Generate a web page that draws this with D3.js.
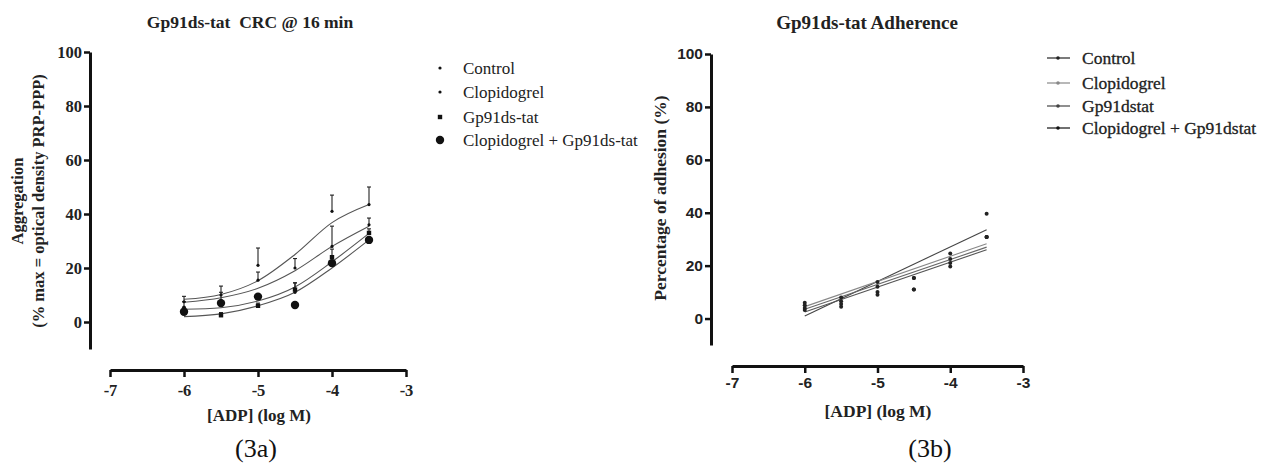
<!DOCTYPE html>
<html>
<head>
<meta charset="utf-8">
<script src="https://cdn.jsdelivr.net/npm/d3@7"></script>
<style>
  body { margin: 0; background: #fff; }
  svg { display: block; }
  .serif { font-family: "Liberation Serif", "Times New Roman", serif; }
</style>
</head>
<body>
<div id="main"></div>
<script>
'use strict';

var width = 1262, height = 465;

// shared x / y
var doses = [-6, -5.5, -5, -4.5, -4, -3.5];
var xTicks = [-7, -6, -5, -4, -3];
var yTicks = [0, 20, 40, 60, 80, 100];

// ---- 3a : aggregation CRC ----
var namesA = ['Control', 'Clopidogrel', 'Gp91ds-tat', 'Clopidogrel + Gp91ds-tat'];
var aggControl = [7.5, 10, 21, 20, 41, 43.5];
var aggClop = [5.5, 8, 15.5, 11, 28, 36];
var aggGp = [4.5, 2.5, 6, 12, 24, 33];
var aggCombo = [3.8, 7, 9.4, 6.3, 21.8, 30.4];
var errControl = [2, 3.3, 6.4, 3.5, 6, 6.5];
var errClop = [2, 3, 3, 3.5, 7.5, 2.5];
var errGp = [1, 1, 1, 2.5, 3, 1.5];
var errCombo = [0.8, 0.8, 0.8, 0.8, 0.8, 0.8];
// fitted curves, read at each dose
var fitControl = [8.4, 10.2, 15.3, 25, 36.8, 43.5];
var fitClop = [7.3, 9, 12.5, 19, 28, 35.5];
var fitGp = [4.7, 5.3, 7.8, 13, 22.3, 32.8];
var fitCombo = [2.0, 3.0, 6, 11, 20, 30.4];

// ---- 3b : adherence ----
var namesB = ['Control', 'Clopidogrel', 'Gp91dstat', 'Clopidogrel + Gp91dstat'];
var adhControl = [6, 8, 13.8, 15.3, 24.6, 39.6];
var adhClop = [5, 6.5, 12, 11, 22.5, 30.8];
var adhGp = [4, 5.5, 10, 15.3, 21, 30.8];
var adhCombo = [3.2, 4.5, 9, 11, 19.7, 30.8];
// linear fits, value at first and last dose
var adhFitX = [-6, -3.5];
var adhFitControl = [1, 33.6];
var adhFitClop = [4.5, 28.3];
var adhFitGp = [3.5, 27];
var adhFitCombo = [2.5, 26];

var svg = d3.select('#main').append('svg')
  .attr('width', width).attr('height', height);

function drawAxes(g, x, y, yAxisX, xAxisY, tickFont, tickSize, xPad) {
  var fmt = function(d) { return String(d); };  // plain hyphen, no decimals
  var ya = g.append('g')
    .attr('transform', 'translate(' + yAxisX + ',0)')
    .call(d3.axisLeft(y).tickValues(yTicks).tickFormat(fmt)
      .tickSize(6).tickSizeOuter(0).tickPadding(2));
  var xa = g.append('g')
    .attr('transform', 'translate(0,' + xAxisY + ')')
    .call(d3.axisBottom(x).tickValues(xTicks).tickFormat(fmt)
      .tickSize(7).tickSizeOuter(0).tickPadding(xPad));

  [ya, xa].forEach(function(a) {
    a.select('.domain').attr('stroke', '#111').attr('stroke-width', 3);
    a.selectAll('.tick line').attr('stroke', '#111').attr('stroke-width', 2.5);
    a.selectAll('.tick text')
      .style('font-family', tickFont)
      .style('font-weight', 'bold')
      .style('font-size', tickSize + 'px')
      .attr('fill', '#222');
  });
}

// ================= panel 3a =================
(function() {
  var g = svg.append('g');
  var x = d3.scaleLinear().domain([-7, -3]).range([110, 406]);
  var y = d3.scaleLinear().domain([-10, 100]).range([349, 52]);

  drawAxes(g, x, y, 90, 370, '"Liberation Serif", serif', 16.5, 7);

  var means = [aggControl, aggClop, aggGp, aggCombo];
  var errs = [errControl, errClop, errGp, errCombo];
  var fits = [fitControl, fitClop, fitGp, fitCombo];

  var line = d3.line()
    .x(function(d, i) { return x(doses[i]); })
    .y(function(d) { return y(d); })
    .curve(d3.curveMonotoneX);

  fits.forEach(function(f) {
    g.append('path').attr('d', line(f))
      .attr('fill', 'none').attr('stroke', '#555').attr('stroke-width', 1.1);
  });

  // error bars (up only, with cap)
  means.forEach(function(m, s) {
    m.forEach(function(v, i) {
      var cx = x(doses[i]), top = y(v + errs[s][i]);
      g.append('line').attr('x1', cx).attr('x2', cx)
        .attr('y1', y(v)).attr('y2', top)
        .attr('stroke', '#222').attr('stroke-width', 1.1);
      g.append('line').attr('x1', cx - 2).attr('x2', cx + 2)
        .attr('y1', top).attr('y2', top)
        .attr('stroke', '#222').attr('stroke-width', 1.1);
    });
  });

  function marker(sel, s, cx, cy) {
    if (s === 2) {
      sel.append('rect').attr('x', cx - 2.2).attr('y', cy - 2.2)
        .attr('width', 4.4).attr('height', 4.4).attr('fill', '#111');
    } else {
      sel.append('circle').attr('cx', cx).attr('cy', cy)
        .attr('r', s === 3 ? 4.2 : 1.6).attr('fill', '#111');
    }
  }

  means.forEach(function(m, s) {
    m.forEach(function(v, i) { marker(g, s, x(doses[i]), y(v)); });
  });

  // legend
  var ly = [68, 92, 117, 140];
  namesA.forEach(function(n, s) {
    marker(g, s, 440, ly[s]);
    g.append('text').attr('class', 'serif')
      .attr('x', 463).attr('y', ly[s] + 5.5)
      .style('font-size', '17px').attr('fill', '#222').text(n);
  });

  g.append('text').attr('class', 'serif')
    .attr('x', 250).attr('y', 28).attr('text-anchor', 'middle')
    .style('font-size', '17.5px').style('font-weight', 'bold').attr('fill', '#222')
    .text('Gp91ds-tat\u00a0\u00a0CRC @ 16 min');

  var yl = g.append('text').attr('class', 'serif')
    .attr('transform', 'translate(0,201) rotate(-90)')
    .attr('text-anchor', 'middle')
    .style('font-size', '16.5px').style('font-weight', 'bold').attr('fill', '#222');
  yl.append('tspan').attr('x', 0).attr('y', 23).text('Aggregation');
  yl.append('tspan').attr('x', 0).attr('y', 44).text('(% max = optical density PRP-PPP)');

  g.append('text').attr('class', 'serif')
    .attr('x', 259).attr('y', 421).attr('text-anchor', 'middle')
    .style('font-size', '17px').style('font-weight', 'bold').attr('fill', '#222')
    .text('[ADP] (log M)');

  g.append('text').attr('class', 'serif')
    .attr('x', 256).attr('y', 457).attr('text-anchor', 'middle')
    .style('font-size', '26px').attr('fill', '#111').text('(3a)');
})();

// ================= panel 3b =================
(function() {
  var g = svg.append('g');
  var x = d3.scaleLinear().domain([-7, -3]).range([732, 1023]);
  var y = d3.scaleLinear().domain([-10, 100]).range([345, 54]);

  drawAxes(g, x, y, 711, 366, '"Liberation Sans", Arial, sans-serif', 15.5, 4);

  var means = [adhControl, adhClop, adhGp, adhCombo];
  var fits = [adhFitControl, adhFitClop, adhFitGp, adhFitCombo];
  var colors = ['#444', '#888', '#666', '#555'];

  var line = d3.line()
    .x(function(d, i) { return x(adhFitX[i]); })
    .y(function(d) { return y(d); });

  fits.forEach(function(f, s) {
    g.append('path').attr('d', line(f))
      .attr('fill', 'none').attr('stroke', colors[s]).attr('stroke-width', 1.1);
  });

  means.forEach(function(m) {
    m.forEach(function(v, i) {
      g.append('circle').attr('cx', x(doses[i])).attr('cy', y(v))
        .attr('r', 2).attr('fill', '#222');
    });
  });

  // legend
  var ly = [58, 83, 106, 128];
  var lcol = ['#222', '#888', '#444', '#111'];
  namesB.forEach(function(n, s) {
    g.append('line').attr('x1', 1047).attr('x2', 1070)
      .attr('y1', ly[s]).attr('y2', ly[s])
      .attr('stroke', lcol[s]).attr('stroke-width', 1.2);
    g.append('circle').attr('cx', 1058).attr('cy', ly[s]).attr('r', 1.8).attr('fill', lcol[s]);
    g.append('text').attr('class', 'serif')
      .attr('x', 1082).attr('y', ly[s] + 5.5)
      .style('font-size', '17.5px').attr('fill', '#222')
      .attr('stroke', '#222').attr('stroke-width', 0.3)
      .text(n);
  });

  g.append('text').attr('class', 'serif')
    .attr('x', 867).attr('y', 29).attr('text-anchor', 'middle')
    .style('font-size', '19px').style('font-weight', 'bold').attr('fill', '#222')
    .text('Gp91ds-tat Adherence');

  g.append('text').attr('class', 'serif')
    .attr('transform', 'translate(666,198) rotate(-90)')
    .attr('text-anchor', 'middle')
    .style('font-size', '17.5px').style('font-weight', 'bold').attr('fill', '#222')
    .text('Percentage of adhesion (%)');

  g.append('text').attr('class', 'serif')
    .attr('x', 878).attr('y', 417).attr('text-anchor', 'middle')
    .style('font-size', '17.5px').style('font-weight', 'bold').attr('fill', '#222')
    .text('[ADP] (log M)');

  g.append('text').attr('class', 'serif')
    .attr('x', 930).attr('y', 457).attr('text-anchor', 'middle')
    .style('font-size', '26px').attr('fill', '#111').text('(3b)');
})();
</script>
</body>
</html>
